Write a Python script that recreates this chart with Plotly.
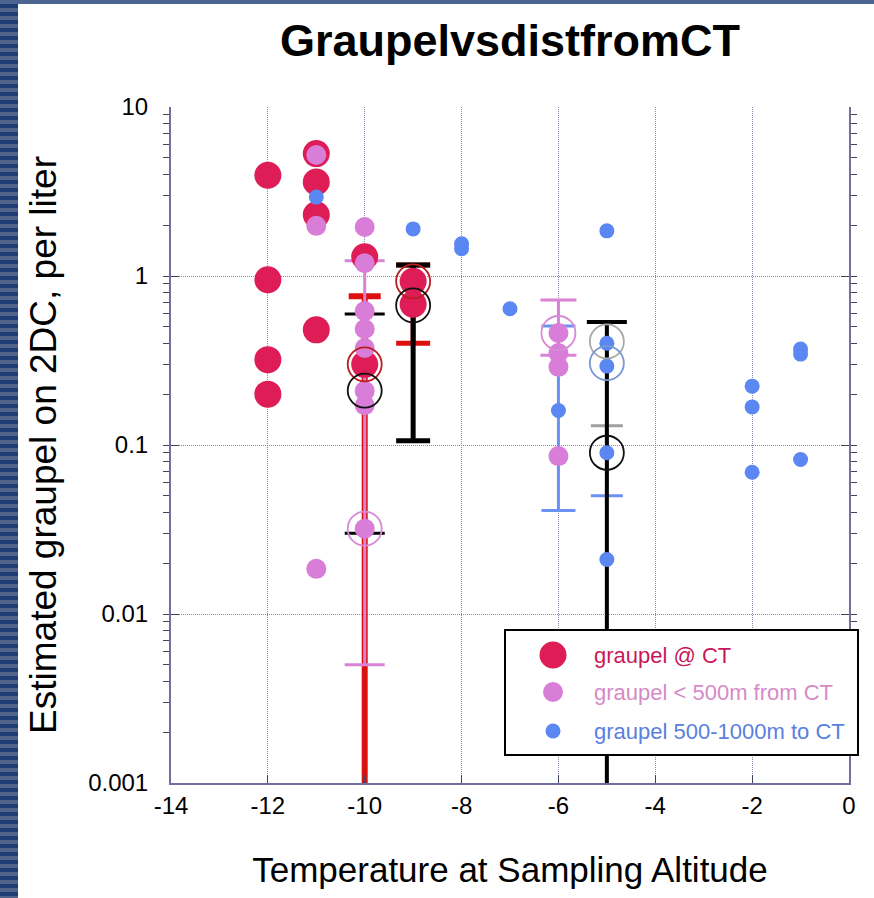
import plotly.graph_objects as go

# ---- data -------------------------------------------------------------
# graupel sampled at cloud top
CT_TEMP = [-12, -12, -12, -12, -11, -11, -11, -11, -10, -10, -9, -9]
CT_CONC = [3.95, 0.95, 0.32, 0.20, 5.3, 3.6, 2.3, 0.48, 1.3, 0.30, 0.93, 0.68]

# graupel sampled < 500 m from cloud top
NEAR_TEMP = [-11, -11, -11, -10, -10, -10, -10, -10, -10, -10, -10, -6, -6, -6, -6]
NEAR_CONC = [5.2, 1.98, 0.0185, 1.95, 1.19, 0.62, 0.486, 0.375, 0.209, 0.172, 0.032,
             0.46, 0.35, 0.29, 0.086]

# graupel sampled 500-1000 m from cloud top
FAR_TEMP = [-11, -9, -8, -8, -7, -6, -5, -5, -5, -5, -5, -2, -2, -2, -1, -1, -1]
FAR_CONC = [2.93, 1.9, 1.55, 1.45, 0.64, 0.16, 1.85, 0.40, 0.293, 0.09, 0.021,
            0.223, 0.168, 0.069, 0.37, 0.345, 0.082]

# summary statistics: centre value with upper / lower bounds
# (1e-4 marks a lower bound that falls below the plotted range)
EB_TEMP = [-10, -10, -10, -9, -9, -6, -6, -5, -5, -5]
EB_CENTER = [0.21, 0.30, 0.032, 0.93, 0.67, 0.27, 0.46, 0.41, 0.305, 0.09]
EB_UPPER = [0.596, 0.76, 1.23, 1.16, 1.16, 0.506, 0.72, 0.53, 0.53, 0.535]
EB_LOWER = [0.030, 1e-4, 0.005, 0.40, 0.106, 0.041, 0.34, 0.13, 0.050, 1e-4]
EB_KIND = ["all", "ct", "near", "ct", "all", "far", "near", "gray", "far", "all"]

# centre values that are circled
RING_TEMP = [-10, -9, -10, -9, -5, -10, -6, -5, -5]
RING_CONC = [0.30, 0.93, 0.21, 0.67, 0.09, 0.032, 0.46, 0.41, 0.305]
RING_KIND = ["ct", "ct", "all", "all", "all", "near", "near", "gray", "far"]

X_TICKS = [-14, -12, -10, -8, -6, -4, -2, 0]
X_TICKTEXT = ["-14", "-12", "-10", "-8", "-6", "-4", "-2", "0"]
Y_TICKS = [0.001, 0.01, 0.1, 1, 10]
Y_TICKTEXT = ["0.001", "0.01", "0.1", "1", "10"]

SERIES_NAMES = ["graupel @ CT", "graupel < 500m from CT", "graupel 500-1000m to CT"]

# ---- styling ----------------------------------------------------------
FONT = "Liberation Sans, Arial, sans-serif"
RED = "#de1c56"
PINK = "#d97ed8"
BLUE = "#5b87f2"
LEGEND_TEXT = ["#c8185a", "#d68ac8", "#5a80e0"]
MARKER_SIZE = [27, 20, 15]
SERIES_COLORS = [RED, PINK, BLUE]

BAR_COLOR = {"ct": "#dd1010", "near": "#d982d6", "far": "#6b92f2",
             "all": "#000000", "gray": "#a0a0a0"}
BAR_STYLE = [  # (thickness, cap half-width)
    (3, 20), (6, 16), (3, 20), (5, 17), (5, 17),
    (3, 17), (3, 18), (3, 16), (3, 16), (4, 20),
]
RING_COLOR = {"ct": "#b82020", "near": "#d88ad4", "far": "#7a98d4",
              "all": "#111111", "gray": "#a8a8a8"}

fig = go.Figure()

# error bars (drawn first, under the points)
for t, c, u, lo, kind, (th, w) in zip(EB_TEMP, EB_CENTER, EB_UPPER, EB_LOWER,
                                      EB_KIND, BAR_STYLE):
    fig.add_trace(go.Scatter(
        x=[t], y=[c], mode="markers",
        marker=dict(size=1, opacity=0),
        error_y=dict(type="data", symmetric=False, array=[u - c],
                     arrayminus=[c - lo], color=BAR_COLOR[kind],
                     thickness=th, width=w),
        showlegend=False, hoverinfo="skip",
    ))

# point series
for name, xs, ys, col, size in zip(SERIES_NAMES,
                                   [CT_TEMP, NEAR_TEMP, FAR_TEMP],
                                   [CT_CONC, NEAR_CONC, FAR_CONC],
                                   SERIES_COLORS, MARKER_SIZE):
    fig.add_trace(go.Scatter(
        x=xs, y=ys, mode="markers", name=name,
        marker=dict(size=size, color=col, line=dict(width=0)),
        showlegend=False,
    ))

# open circles around centre values
fig.add_trace(go.Scatter(
    x=RING_TEMP, y=RING_CONC, mode="markers",
    marker=dict(symbol="circle-open", size=34,
                color=[RING_COLOR[k] for k in RING_KIND],
                line=dict(width=1.8)),
    showlegend=False, hoverinfo="skip",
))

shapes = []

# page decoration: striped band on the left, thin band on top
PX_L, PX_R, PX_T, PX_B = 171, 849, 107, 783
def px_x(p):
    return (p - PX_L) / (PX_R - PX_L)
def px_y(p):
    return (PX_B - p) / (PX_B - PX_T)

shapes.append(dict(type="rect", xref="paper", yref="paper",
                   x0=px_x(0), x1=px_x(18), y0=px_y(898), y1=px_y(0),
                   fillcolor="#1d3d74", line=dict(width=0), layer="above"))
for s in range(0, 898, 8):
    shapes.append(dict(type="rect", xref="paper", yref="paper",
                       x0=px_x(0), x1=px_x(18), y0=px_y(s + 4), y1=px_y(s),
                       fillcolor="#506389", line=dict(width=0), layer="above"))
shapes.append(dict(type="rect", xref="paper", yref="paper",
                   x0=px_x(0), x1=px_x(874), y0=px_y(4), y1=px_y(0),
                   fillcolor="#4b6590", line=dict(width=0), layer="above"))

# legend box
shapes.append(dict(type="rect", xref="paper", yref="paper",
                   x0=px_x(505), x1=px_x(858), y0=px_y(755), y1=px_y(630),
                   fillcolor="white", line=dict(color="black", width=2),
                   layer="above"))
annotations = []
legend_rows = [655, 692, 731]
for name, col, tcol, size, row in zip(SERIES_NAMES, SERIES_COLORS, LEGEND_TEXT,
                                      MARKER_SIZE, legend_rows):
    r = size / 2
    shapes.append(dict(type="circle", xref="paper", yref="paper",
                       xsizemode="pixel", ysizemode="pixel",
                       xanchor=px_x(553), yanchor=px_y(row),
                       x0=-r, x1=r, y0=-r, y1=r,
                       fillcolor=col, line=dict(width=0), layer="above"))
    annotations.append(dict(xref="paper", yref="paper", x=px_x(592), y=px_y(row),
                            xanchor="left", yanchor="middle", showarrow=False,
                            text=name, font=dict(family=FONT, size=22, color=tcol)))

AXIS_LINE = "#7070a0"
GRID = "#8a8aa8"

fig.update_layout(
    width=874, height=898,
    margin=dict(l=PX_L, r=874 - PX_R, t=PX_T, b=898 - PX_B),
    paper_bgcolor="white", plot_bgcolor="white",
    font=dict(family=FONT, color="black"),
    title=dict(text="<b>GraupelvsdistfromCT</b>", x=0.5, xref="paper",
               y=1 - 40 / 898, yref="container", yanchor="middle",
               font=dict(family=FONT, size=45, color="black")),
    shapes=shapes, annotations=annotations,
    showlegend=False,
)

fig.update_xaxes(
    range=[-14, 0], tickvals=X_TICKS, ticktext=X_TICKTEXT,
    tickfont=dict(size=24), ticks="inside", ticklen=8, tickcolor="#404060",
    showline=True, linecolor=AXIS_LINE, linewidth=2, mirror=False,
    showgrid=True, gridcolor=GRID, griddash="1px,1px", gridwidth=1,
    zeroline=False,
    title=dict(text="Temperature at Sampling Altitude",
               font=dict(size=35), standoff=40),
)
fig.update_yaxes(
    type="log", range=[-3, 1], tickvals=Y_TICKS, ticktext=Y_TICKTEXT,
    tickfont=dict(size=24), ticks="inside", ticklen=8, tickcolor="#404060",
    ticklabelstandoff=16,
    minor=dict(ticks="outside", ticklen=6, tickcolor="#404060",
               dtick="D1", showgrid=False),
    showline=True, linecolor=AXIS_LINE, linewidth=2, mirror="ticks",
    showgrid=True, gridcolor=GRID, griddash="1px,1px", gridwidth=1,
    zeroline=False,
    title=dict(text="Estimated graupel on 2DC, per liter",
               font=dict(size=37), standoff=20),
)

fig.write_html("out.html")
